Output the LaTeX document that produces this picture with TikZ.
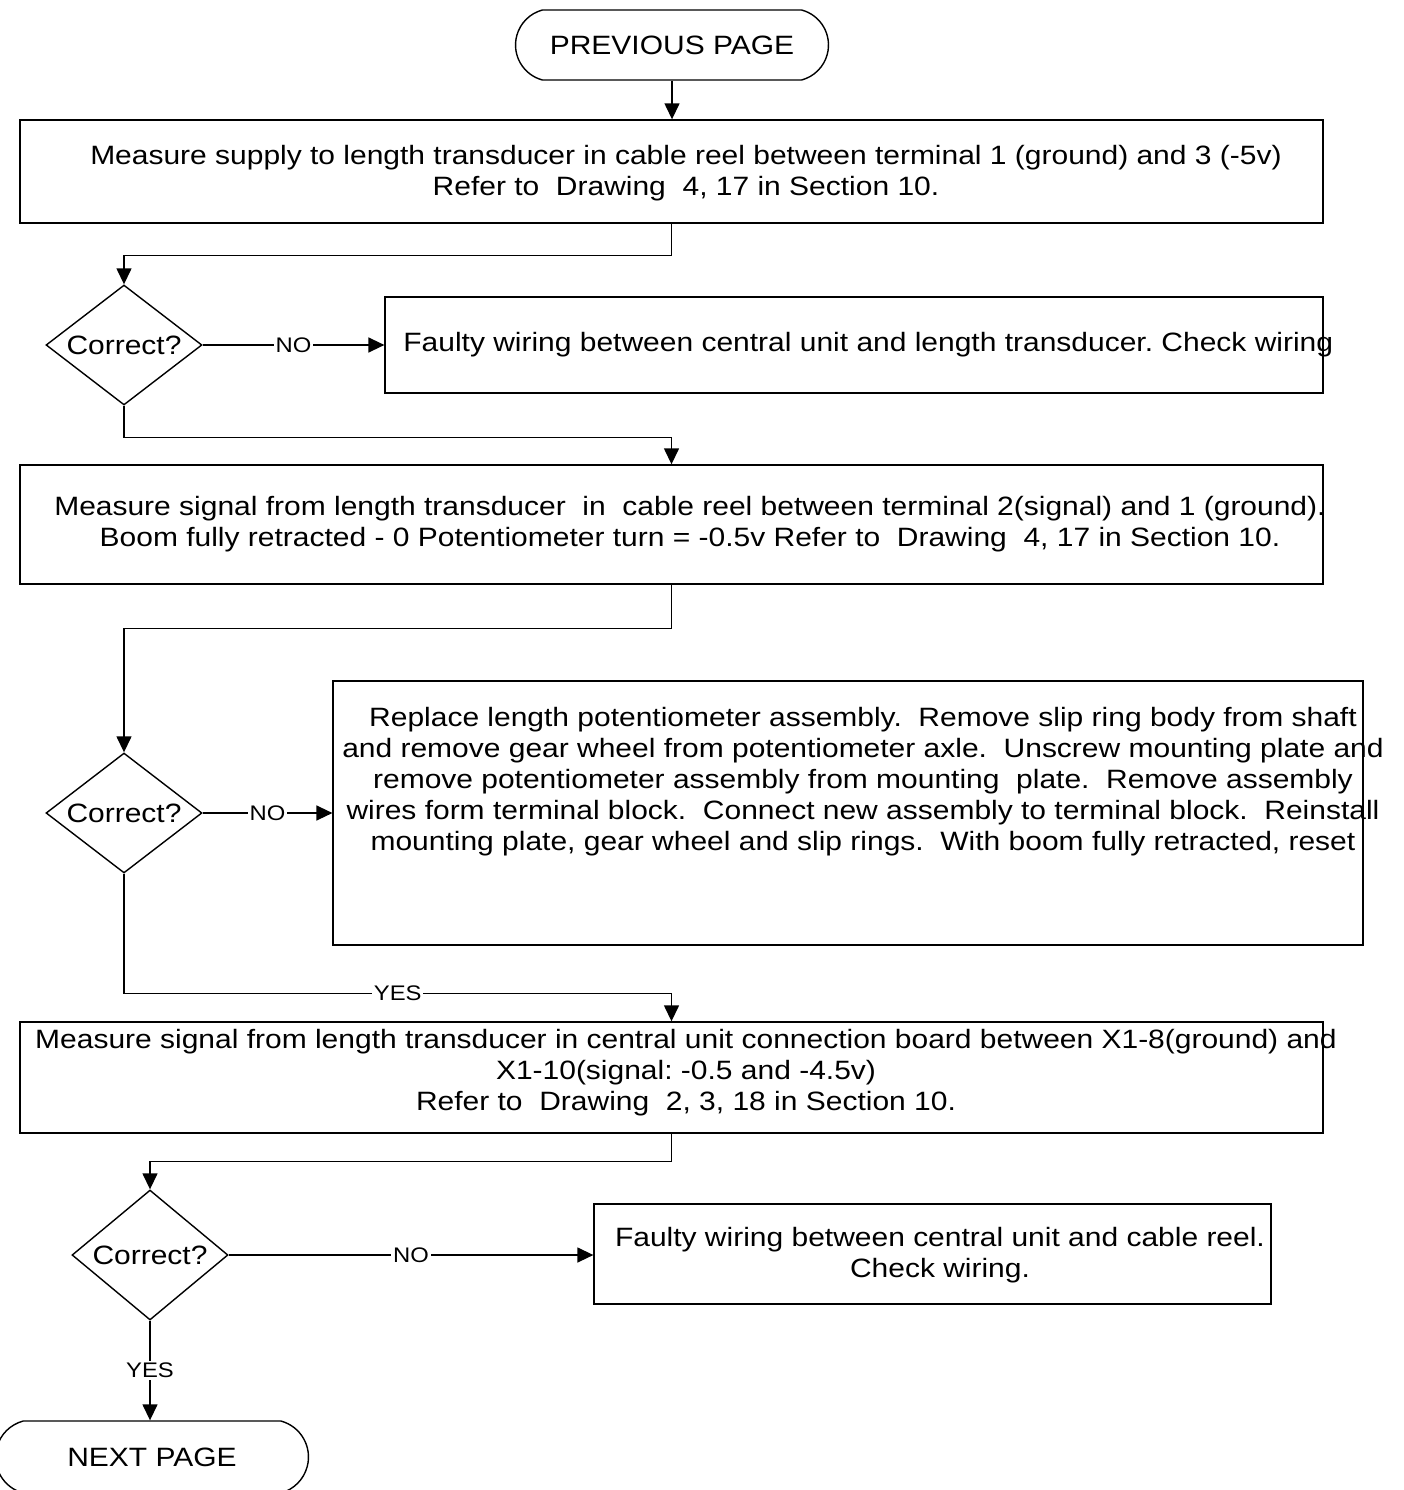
\documentclass[tikz,border=0pt]{standalone}
\usepackage{fontspec}
\setmainfont{Liberation Sans}[FakeStretch=1.13]
\usetikzlibrary{arrows.meta,shapes.geometric,shapes.misc}
\frenchspacing

\begin{document}
\begin{tikzpicture}[
  x=0.02cm, y=-0.02cm,
  font=\fontsize{15.1pt}{17.6pt}\selectfont,
  box/.style={draw, line width=0.8pt, inner sep=0pt},
  txt/.style={align=center, inner sep=0pt},
  term/.style={box, rounded rectangle, rounded rectangle arc length=150, minimum width=6.26cm, minimum height=1.4cm},
  dec/.style={box, diamond, aspect=1.3, minimum width=3.12cm, minimum height=2.4cm},
  lbl/.style={fill=white, inner sep=1pt, font=\fontsize{12pt}{14pt}\selectfont},
  arr/.style={-{Triangle[length=3.2mm, width=3mm]}, line width=0.8pt}]
\useasboundingbox (0,0) rectangle (1403,1490);
\node[term] (prev) at (672,45) {PREVIOUS PAGE};
\node[box, minimum width=26.06cm, minimum height=2.06cm] (b1) at (671.5,171.5) {};
\node[txt] (b1t) at (686,173) {Measure supply to length transducer in cable reel between terminal 1 (ground) and 3 (-5v)\\
  Refer to~ Drawing~ 4, 17 in Section 10.};
\node[dec] (d1) at (124,345) {Correct?};
\node[box, minimum width=18.76cm, minimum height=1.92cm] (b2) at (854,345) {};
\node[txt, anchor=west] (b2t) at (403,345) {Faulty wiring between central unit and length transducer. Check wiring};
\node[box, minimum width=26.06cm, minimum height=2.38cm] (b3) at (671.5,524.5) {};
\node[txt] (b3t) at (690,524) {Measure signal from length transducer~ in~ cable reel between terminal 2(signal) and 1 (ground).\\
  Boom fully retracted - 0 Potentiometer turn = -0.5v Refer to~ Drawing~ 4, 17 in Section 10.};
\node[dec] (d2) at (124,813) {Correct?};
\node[box, minimum width=20.6cm, minimum height=5.28cm] (b4) at (848,813) {};
\node[txt] (b4t) at (863,781.5) {Replace length potentiometer assembly.~ Remove slip ring body from shaft\\
  and remove gear wheel from potentiometer axle.~ Unscrew mounting plate and\\
  remove potentiometer assembly from mounting~ plate.~ Remove assembly\\
  wires form terminal block.~ Connect new assembly to terminal block.~ Reinstall\\
  mounting plate, gear wheel and slip rings.~ With boom fully retracted, reset};
\node[box, minimum width=26.06cm, minimum height=2.22cm] (b5) at (671.5,1077.5) {};
\node[txt] (b5t) at (686,1073) {Measure signal from length transducer in central unit connection board between X1-8(ground) and\\
  X1-10(signal: -0.5 and -4.5v)\\
  Refer to~ Drawing~ 2, 3, 18 in Section 10.};
\node[dec, minimum height=2.6cm] (d3) at (150,1255) {Correct?};
\node[box, minimum width=13.54cm, minimum height=2cm] (b6) at (932.5,1254) {};
\node[txt] (b6t) at (940,1255) {Faulty wiring between central unit and cable reel.\\ Check wiring.};
\node[term, minimum height=1.44cm] (next) at (152,1457) {NEXT PAGE};
\draw[arr] (prev.south) -- (prev.south |- b1.north);
\draw[arr] (b1.south) -- ++(0,32) -| (d1.north);
\draw[arr] (d1.south) -- ++(0,32) -| (b3.north);
\draw[arr] (b3.south) -- ++(0,44) -| (d2.north);
\draw[arr] (d2.south) -- ++(0,120) -| node[lbl, pos=0.25]{YES} (b5.north);
\draw[arr] (b5.south) -- ++(0,28) -| (d3.north);
\foreach \x/\y in {d1/b2,d2/b4,d3/b6} \draw[arr] (\x.east) -- node[lbl]{NO} (\x.east -| \y.west);
\draw[arr] (d3.south) -- node[lbl]{YES} (d3.south |- next.north);
\end{tikzpicture}
\end{document}
